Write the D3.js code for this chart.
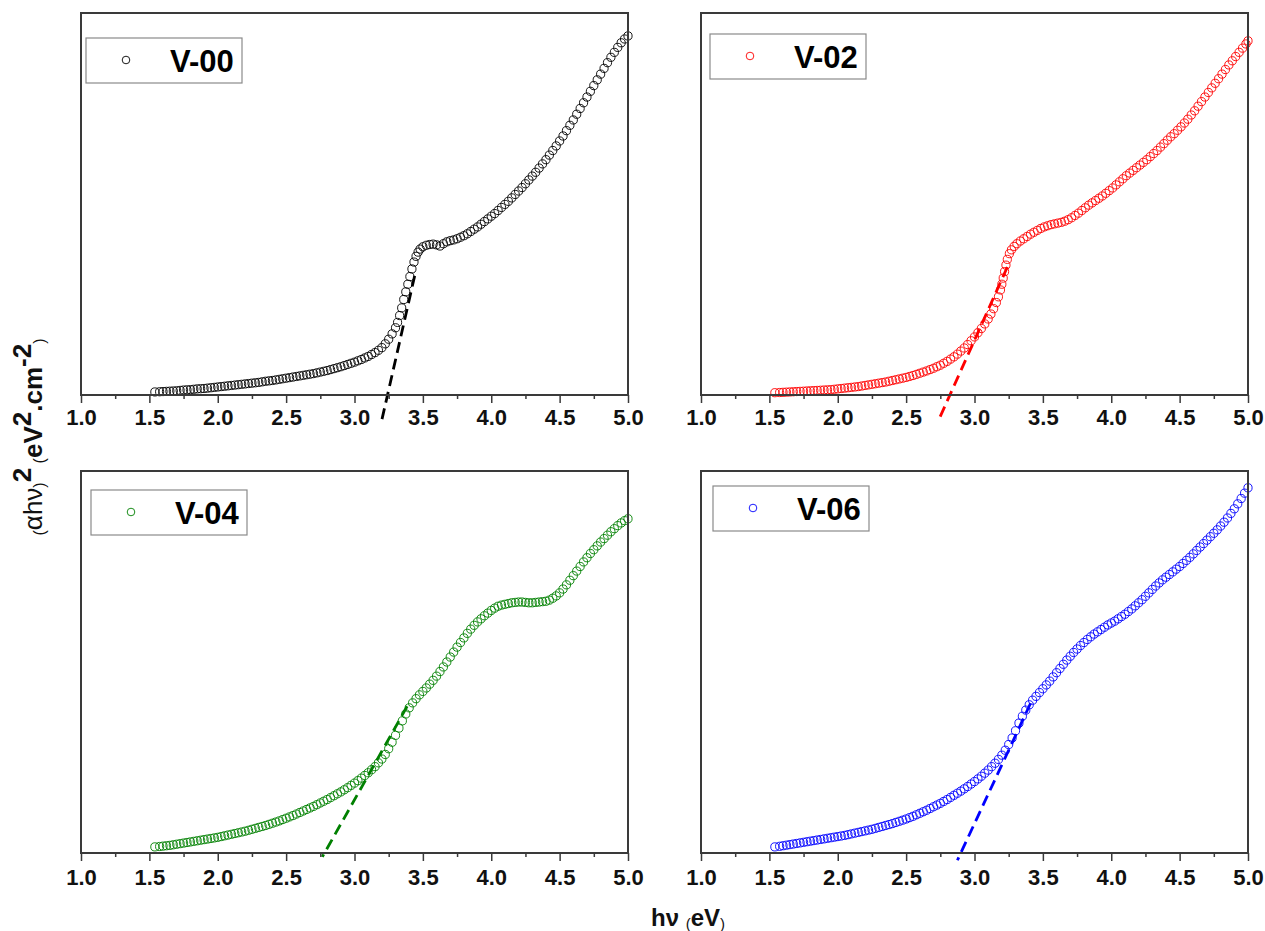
<!DOCTYPE html>
<html>
<head>
<meta charset="utf-8">
<script src="https://cdn.jsdelivr.net/npm/d3@7"></script>
<style>
  body { margin: 0; background: #fff; }
  svg { display: block; font-family: "Liberation Sans", Arial, sans-serif; }
</style>
</head>
<body>
<svg id="chart" width="1265" height="931"></svg>
<script>
/* ── data: [hν (eV), (αhν)² in arbitrary units, 0–100 of panel height] ── */
const V00 = [
  [1.54,0.8],[1.6,0.9],[1.65,1.0],[1.7,1.1],[1.75,1.3],[1.8,1.4],[1.85,1.6],[1.9,1.7],[1.95,1.9],[2.0,2.1],
  [2.05,2.3],[2.1,2.5],[2.15,2.7],[2.2,2.9],[2.25,3.1],[2.3,3.3],[2.35,3.6],[2.4,3.8],[2.45,4.1],[2.5,4.4],
  [2.55,4.7],[2.6,5.0],[2.65,5.3],[2.7,5.6],[2.75,6.0],[2.8,6.4],[2.85,6.9],[2.9,7.4],[2.95,8.0],[3.0,8.6],
  [3.05,9.3],[3.1,10.1],[3.15,11.1],[3.2,12.4],[3.225,13.4],[3.25,14.6],[3.275,16.0],[3.3,17.6],[3.315,19.0],
  [3.33,20.8],[3.345,22.8],[3.36,25.0],[3.375,27.0],[3.39,29.0],[3.405,31.0],[3.42,33.0],[3.435,34.8],
  [3.45,36.3],[3.465,37.4],[3.48,38.2],[3.5,38.8],[3.525,39.2],[3.55,39.4],[3.575,39.5],[3.6,39.3],
  [3.625,39.0],[3.65,39.6],[3.675,40.1],[3.7,40.4],[3.725,40.6],[3.75,40.9],[3.775,41.3],[3.8,41.7],
  [3.825,42.2],[3.85,42.8],[3.875,43.4],[3.9,44.0],[3.925,44.7],[3.95,45.4],[3.975,46.1],[4.0,46.8],
  [4.025,47.5],[4.05,48.3],[4.075,49.1],[4.1,49.9],[4.125,50.7],[4.15,51.6],[4.175,52.5],[4.2,53.4],
  [4.225,54.3],[4.25,55.3],[4.275,56.3],[4.3,57.3],[4.325,58.3],[4.35,59.4],[4.375,60.5],[4.4,61.6],
  [4.425,62.8],[4.45,64.0],[4.475,65.2],[4.5,66.5],[4.525,67.8],[4.55,69.2],[4.575,70.6],[4.6,72.0],
  [4.625,73.5],[4.65,75.0],[4.675,76.5],[4.7,78.0],[4.725,79.5],[4.75,81.0],[4.775,82.5],[4.8,84.0],
  [4.825,85.5],[4.85,87.0],[4.875,88.4],[4.9,89.7],[4.925,91.0],[4.95,92.2],[4.975,93.2],[5.0,94.0],
  // denser readings along the low-energy band
  [1.575,0.85],[1.625,0.95],[1.675,1.05],[1.725,1.2],[1.775,1.35],[1.825,1.5],[1.875,1.65],[1.925,1.8],
  [1.975,2.0],[2.025,2.2],[2.075,2.4],[2.125,2.6],[2.175,2.8],[2.225,3.0],[2.275,3.2],[2.325,3.45],
  [2.375,3.7],[2.425,3.95],[2.475,4.25],[2.525,4.55],[2.575,4.85],[2.625,5.15],[2.675,5.45],[2.725,5.8],
  [2.775,6.2],[2.825,6.65],[2.875,7.15],[2.925,7.7],[2.975,8.3],[3.025,8.95],[3.075,9.7],[3.125,10.6],
  [3.175,11.7]
];
const V02 = [
  [1.54,0.6],[1.6,0.7],[1.65,0.8],[1.7,0.9],[1.75,1.0],[1.8,1.1],[1.85,1.2],[1.9,1.3],[1.95,1.4],[2.0,1.6],
  [2.05,1.8],[2.1,2.0],[2.15,2.2],[2.2,2.5],[2.25,2.8],[2.3,3.1],[2.35,3.4],[2.4,3.8],[2.45,4.2],[2.5,4.6],
  [2.55,5.1],[2.6,5.7],[2.65,6.3],[2.7,7.0],[2.75,7.8],[2.8,8.8],[2.825,9.4],[2.85,10.0],[2.875,10.7],
  [2.9,11.5],[2.925,12.3],[2.95,13.2],[2.975,14.2],[3.0,15.2],[3.025,16.3],[3.05,17.4],[3.075,18.6],
  [3.1,19.9],[3.12,21.2],[3.14,22.6],[3.16,24.2],[3.175,25.7],[3.19,27.5],[3.2,29.0],[3.21,30.6],
  [3.22,32.3],[3.23,34.0],[3.24,35.5],[3.255,37.0],[3.27,38.0],[3.29,38.9],[3.31,39.6],[3.335,40.3],
  [3.36,40.9],[3.385,41.5],[3.41,42.1],[3.435,42.6],[3.46,43.1],[3.485,43.6],[3.51,44.0],[3.535,44.3],
  [3.56,44.6],[3.585,44.8],[3.61,45.0],[3.635,45.2],[3.66,45.5],[3.685,45.9],[3.71,46.4],[3.735,47.0],
  [3.76,47.6],[3.785,48.3],[3.81,49.0],[3.835,49.7],[3.86,50.3],[3.885,50.9],[3.91,51.5],[3.935,52.1],
  [3.96,52.8],[3.985,53.5],[4.01,54.2],[4.035,55.0],[4.06,55.8],[4.085,56.6],[4.11,57.4],[4.135,58.1],
  [4.16,58.8],[4.185,59.5],[4.21,60.2],[4.235,60.9],[4.26,61.6],[4.285,62.4],[4.31,63.2],[4.335,64.0],
  [4.36,64.9],[4.385,65.8],[4.41,66.7],[4.435,67.6],[4.46,68.4],[4.485,69.3],[4.51,70.2],[4.535,71.2],
  [4.56,72.2],[4.585,73.3],[4.61,74.4],[4.635,75.6],[4.66,76.8],[4.685,78.0],[4.71,79.2],[4.735,80.4],
  [4.76,81.6],[4.785,82.8],[4.81,84.0],[4.835,85.2],[4.86,86.4],[4.885,87.5],[4.91,88.6],[4.935,89.7],
  [4.96,90.8],[4.985,91.9],[5.0,92.7],
  // denser readings along the low-energy band
  [1.575,0.65],[1.625,0.75],[1.675,0.85],[1.725,0.95],[1.775,1.05],[1.825,1.15],[1.875,1.25],[1.925,1.35],
  [1.975,1.5],[2.025,1.7],[2.075,1.9],[2.125,2.1],[2.175,2.35],[2.225,2.65],[2.275,2.95],[2.325,3.25],
  [2.375,3.6],[2.425,4.0],[2.475,4.4],[2.525,4.85],[2.575,5.4],[2.625,6.0],[2.675,6.65],[2.725,7.4],
  [2.775,8.3]
];
const V04 = [
  [1.54,1.6],[1.6,1.8],[1.65,2.0],[1.7,2.3],[1.75,2.6],[1.8,2.9],[1.85,3.2],[1.9,3.5],[1.95,3.8],[2.0,4.1],
  [2.05,4.5],[2.1,4.9],[2.15,5.3],[2.2,5.7],[2.25,6.2],[2.3,6.7],[2.35,7.2],[2.4,7.8],[2.45,8.4],[2.5,9.1],
  [2.55,9.8],[2.6,10.6],[2.65,11.4],[2.7,12.2],[2.75,13.1],[2.8,14.0],[2.85,15.0],[2.9,16.0],[2.95,17.1],
  [3.0,18.3],[3.05,19.6],[3.1,21.0],[3.15,22.6],[3.2,24.6],[3.225,25.8],[3.25,27.3],[3.275,29.0],[3.3,30.8],
  [3.325,32.7],[3.35,34.6],[3.375,36.4],[3.4,38.0],[3.425,39.3],[3.45,40.4],[3.475,41.4],[3.5,42.3],
  [3.525,43.2],[3.55,44.2],[3.575,45.2],[3.6,46.3],[3.625,47.5],[3.65,48.7],[3.675,50.0],[3.7,51.3],
  [3.725,52.6],[3.75,53.9],[3.775,55.1],[3.8,56.3],[3.825,57.5],[3.85,58.6],[3.875,59.6],[3.9,60.5],
  [3.925,61.3],[3.95,62.1],[3.975,62.8],[4.0,63.5],[4.025,64.1],[4.05,64.6],[4.075,64.9],[4.1,65.1],
  [4.125,65.3],[4.15,65.5],[4.175,65.6],[4.2,65.7],[4.225,65.7],[4.25,65.6],[4.275,65.5],[4.3,65.5],
  [4.325,65.6],[4.35,65.7],[4.375,65.8],[4.4,65.9],[4.425,66.2],[4.45,66.7],[4.475,67.3],[4.5,68.1],
  [4.525,69.1],[4.55,70.2],[4.575,71.4],[4.6,72.6],[4.625,73.8],[4.65,75.0],[4.675,76.2],[4.7,77.3],
  [4.725,78.4],[4.75,79.4],[4.775,80.4],[4.8,81.4],[4.825,82.3],[4.85,83.2],[4.875,84.1],[4.9,84.9],
  [4.925,85.7],[4.95,86.4],[4.975,87.0],[5.0,87.5],
  // denser readings along the low-energy band
  [1.575,1.7],[1.625,1.9],[1.675,2.15],[1.725,2.45],[1.775,2.75],[1.825,3.05],[1.875,3.35],[1.925,3.65],
  [1.975,3.95],[2.025,4.3],[2.075,4.7],[2.125,5.1],[2.175,5.5],[2.225,5.95],[2.275,6.45],[2.325,6.95],
  [2.375,7.5],[2.425,8.1],[2.475,8.75],[2.525,9.45],[2.575,10.2],[2.625,11.0],[2.675,11.8],[2.725,12.65],
  [2.775,13.55],[2.825,14.5],[2.875,15.5],[2.925,16.55],[2.975,17.7],[3.025,18.95],[3.075,20.3],
  [3.125,21.8],[3.175,23.6]
];
const V06 = [
  [1.54,1.6],[1.6,1.9],[1.65,2.2],[1.7,2.5],[1.75,2.8],[1.8,3.1],[1.85,3.4],[1.9,3.7],[1.95,4.0],[2.0,4.3],
  [2.05,4.6],[2.1,5.0],[2.15,5.4],[2.2,5.8],[2.25,6.2],[2.3,6.7],[2.35,7.2],[2.4,7.7],[2.45,8.3],[2.5,8.9],
  [2.55,9.6],[2.6,10.4],[2.65,11.2],[2.7,12.1],[2.75,13.0],[2.8,14.0],[2.85,15.1],[2.9,16.2],[2.95,17.4],
  [3.0,18.7],[3.05,20.1],[3.1,21.7],[3.15,23.5],[3.2,25.6],[3.225,26.9],[3.25,28.4],[3.275,30.1],[3.3,32.0],
  [3.325,34.0],[3.35,35.8],[3.375,37.4],[3.4,38.8],[3.425,40.0],[3.45,41.0],[3.475,42.0],[3.5,43.0],
  [3.525,44.0],[3.55,45.0],[3.575,46.1],[3.6,47.2],[3.625,48.3],[3.65,49.4],[3.675,50.5],[3.7,51.5],
  [3.725,52.5],[3.75,53.4],[3.775,54.3],[3.8,55.1],[3.825,55.9],[3.85,56.6],[3.875,57.3],[3.9,57.9],
  [3.925,58.5],[3.95,59.1],[3.975,59.7],[4.0,60.2],[4.025,60.7],[4.05,61.3],[4.075,61.9],[4.1,62.5],
  [4.125,63.2],[4.15,63.9],[4.175,64.7],[4.2,65.5],[4.225,66.3],[4.25,67.2],[4.275,68.1],[4.3,69.0],
  [4.325,69.9],[4.35,70.7],[4.375,71.5],[4.4,72.2],[4.425,72.9],[4.45,73.6],[4.475,74.3],[4.5,75.0],
  [4.525,75.8],[4.55,76.6],[4.575,77.4],[4.6,78.3],[4.625,79.2],[4.65,80.1],[4.675,81.0],[4.7,81.9],
  [4.725,82.8],[4.75,83.7],[4.775,84.6],[4.8,85.6],[4.825,86.6],[4.85,87.7],[4.875,88.9],[4.9,90.1],
  [4.925,91.4],[4.95,92.8],[4.975,94.2],[5.0,95.6],
  // denser readings along the low-energy band
  [1.575,1.75],[1.625,2.05],[1.675,2.35],[1.725,2.65],[1.775,2.95],[1.825,3.25],[1.875,3.55],[1.925,3.85],
  [1.975,4.15],[2.025,4.45],[2.075,4.8],[2.125,5.2],[2.175,5.6],[2.225,6.0],[2.275,6.45],[2.325,6.95],
  [2.375,7.45],[2.425,8.0],[2.475,8.6],[2.525,9.25],[2.575,10.0],[2.625,10.8],[2.675,11.65],[2.725,12.55],
  [2.775,13.5],[2.825,14.55],[2.875,15.65],[2.925,16.8],[2.975,18.05],[3.025,19.4],[3.075,20.9],
  [3.125,22.6],[3.175,24.5]
];

// linear fits (Tauc extrapolation), end points
const FIT00 = [[3.44, 31.2], [3.195, -7.3]];
const FIT02 = [[3.24, 33.5], [2.745, -6.0]];
const FIT04 = [[3.385, 38.4], [2.765, -1.0]];
const FIT06 = [[3.41, 39.2], [2.875, -1.9]];

const sampleNames = ["V-00", "V-02", "V-04", "V-06"];
const sampleColors = ["#000000", "#ff0000", "#008000", "#0000ff"];
const xMajorTicks = [1.0, 1.5, 2.0, 2.5, 3.0, 3.5, 4.0, 4.5, 5.0];
const xMinorTicks = [1.25, 1.75, 2.25, 2.75, 3.25, 3.75, 4.25, 4.75];

/* ── layout ── */
const W = 547, H = 382;
const panels = [
  { data: V00, fit: FIT00, left: 81,  top: 13,  legend: [5, 25],  labelY: 14 },
  { data: V02, fit: FIT02, left: 701, top: 13,  legend: [9, 21],  labelY: 14 },
  { data: V04, fit: FIT04, left: 81,  top: 471, legend: [10, 19], labelY: 16 },
  { data: V06, fit: FIT06, left: 701, top: 471, legend: [12, 15], labelY: 16 }
];

const svg = d3.select("#chart");
const x = d3.scaleLinear().domain([1, 5]).range([0, W]);
const y = d3.scaleLinear().domain([0, 100]).range([H, 0]);

panels.forEach((p, i) => {
  const color = sampleColors[i];
  const g = svg.append("g").attr("transform", `translate(${p.left},${p.top})`);

  // data points (hollow circles)
  g.append("g").selectAll("circle").data(p.data).join("circle")
    .attr("cx", d => x(d[0]))
    .attr("cy", d => y(d[1]))
    .attr("r", 4.1)
    .attr("fill", "none")
    .attr("stroke", color)
    .attr("stroke-width", 0.9);

  // tangent line
  g.append("path")
    .datum(p.fit)
    .attr("fill", "none")
    .attr("stroke", color)
    .attr("stroke-width", 2.8)
    .attr("stroke-dasharray", "11,6")
    .attr("d", d3.line().x(d => x(d[0])).y(d => y(d[1])));

  // frame
  g.append("rect")
    .attr("width", W).attr("height", H)
    .attr("fill", "none")
    .attr("stroke", "#3a3a3a")
    .attr("stroke-width", 2);

  // bottom axis, major + minor
  const ax = g.append("g").attr("transform", `translate(0,${H})`)
    .call(d3.axisBottom(x).tickValues(xMajorTicks).tickSize(8).tickPadding(p.labelY - 8)
      .tickFormat(d3.format(".1f")));
  ax.select(".domain").remove();
  ax.selectAll(".tick line").attr("stroke", "#3a3a3a").attr("stroke-width", 1.5);
  ax.selectAll("text")
    .attr("fill", "#111")
    .attr("font-size", "22px")
    .attr("font-weight", "bold")
    .attr("font-family", "'Liberation Sans', Arial, sans-serif");

  const axm = g.append("g").attr("transform", `translate(0,${H})`)
    .call(d3.axisBottom(x).tickValues(xMinorTicks).tickSize(4).tickFormat(""));
  axm.select(".domain").remove();
  axm.selectAll(".tick line").attr("stroke", "#3a3a3a").attr("stroke-width", 1.5);

  // legend
  const lg = g.append("g").attr("transform", `translate(${p.legend[0]},${p.legend[1]})`);
  lg.append("rect")
    .attr("width", 156).attr("height", 45)
    .attr("fill", "#fff")
    .attr("stroke", "#8a8a8a")
    .attr("stroke-width", 1.2);
  lg.append("circle")
    .attr("cx", 40).attr("cy", 22).attr("r", 3.8)
    .attr("fill", "none").attr("stroke", color).attr("stroke-width", 0.9);
  lg.append("text")
    .attr("x", 84).attr("y", 34)
    .attr("font-size", "31px")
    .attr("font-weight", "bold")
    .attr("fill", "#000")
    .text(sampleNames[i]);
});

// y axis title
const yt = svg.append("text")
  .attr("transform", "translate(42,437) rotate(-90)")
  .attr("text-anchor", "middle")
  .attr("font-size", "26px")
  .attr("fill", "#111");
yt.append("tspan").attr("font-size", "16px").attr("dy", 3).text("(");
yt.append("tspan").attr("dy", -3).text("αhν");
yt.append("tspan").attr("font-size", "16px").attr("dy", 3).text(")");
yt.append("tspan").attr("font-weight", "bold").attr("dy", -14).text("2");
yt.append("tspan").attr("font-size", "16px").attr("dy", 14).text(" (");
yt.append("tspan").attr("font-weight", "bold").attr("dy", -3).text("eV");
yt.append("tspan").attr("font-weight", "bold").attr("dy", -11).text("2");
yt.append("tspan").attr("font-weight", "bold").attr("dy", 11).text(".cm");
yt.append("tspan").attr("font-weight", "bold").attr("dy", -11).text("-2");
yt.append("tspan").attr("font-size", "16px").attr("dy", 14).text(")");

// x axis title
const xt = svg.append("text")
  .attr("x", 688).attr("y", 926)
  .attr("text-anchor", "middle")
  .attr("font-size", "24px")
  .attr("font-weight", "bold")
  .attr("fill", "#111");
xt.append("tspan").text("hν ");
xt.append("tspan").attr("font-size", "15px").attr("font-weight", "normal").attr("dy", 3).text("(");
xt.append("tspan").attr("dy", -3).text("eV");
xt.append("tspan").attr("font-size", "15px").attr("font-weight", "normal").attr("dy", 3).text(")");
</script>
</body>
</html>
